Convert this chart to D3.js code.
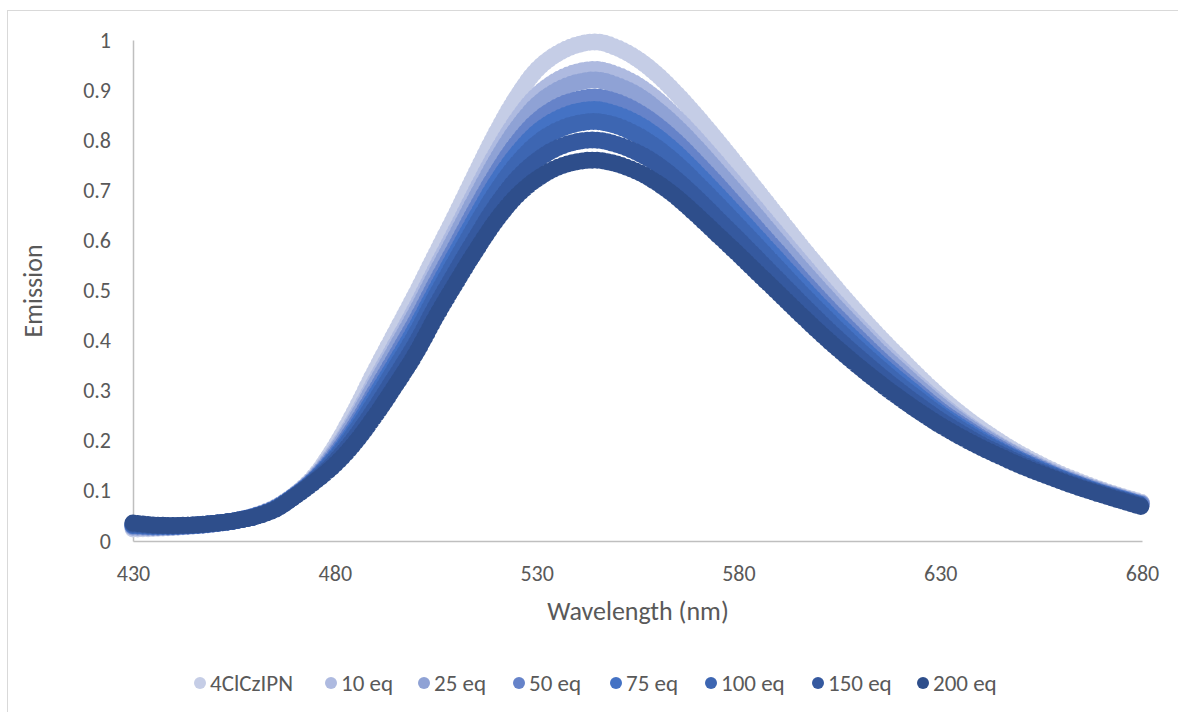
<!DOCTYPE html>
<html>
<head>
<meta charset="utf-8">
<script src="https://cdn.jsdelivr.net/npm/d3@7"></script>
<style>
  body { margin: 0; background: #fff; }
  text { font-family: Calibri, Carlito, Lato, sans-serif; fill: #595959; }
</style>
</head>
<body>
<div id="chart"></div>
<script>
// wavelengths (nm), every 5 nm
let wavelength = [430,435,440,445,450,455,460,465,470,475,480,485,490,495,500,505,510,515,520,525,530,535,540,545,550,555,560,565,570,575,580,585,590,595,600,605,610,615,620,625,630,635,640,645,650,655,660,665,670,675,680]

let seriesNames = ['4ClCzIPN','10 eq','25 eq','50 eq','75 eq','100 eq','150 eq','200 eq']
let seriesColors = ['#c5cde6','#aebae0','#8fa2d5','#6683c9','#4472c4','#3d66b2','#35599f','#2e4e8b']

let em4ClCzIPN = [.024,.025,.027,.030,.034,.040,.050,.066,.092,.130,.188,.260,.340,.416,.492,.572,.652,.735,.815,.885,.940,.972,.990,.996,.984,.962,.930,.890,.845,.797,.747,.696,.645,.594,.545,.497,.451,.407,.366,.326,.288,.254,.224,.197,.173,.152,.133,.117,.102,.089,.077]
let em10 = [.027,.027,.028,.030,.034,.040,.050,.065,.091,.127,.180,.245,.319,.391,.464,.543,.620,.699,.774,.839,.889,.919,.936,.941,.930,.910,.880,.842,.799,.753,.706,.658,.610,.562,.515,.470,.427,.386,.347,.310,.275,.243,.215,.190,.168,.148,.130,.114,.100,.087,.075]
let em25 = [.028,.027,.028,.031,.034,.040,.049,.065,.091,.126,.176,.239,.311,.382,.454,.532,.608,.685,.759,.822,.870,.899,.915,.920,.909,.890,.860,.824,.782,.737,.691,.644,.596,.549,.504,.460,.418,.377,.340,.304,.270,.239,.212,.188,.166,.146,.128,.113,.099,.086,.074]
let em50 = [.030,.028,.029,.031,.034,.040,.049,.064,.090,.124,.171,.230,.298,.367,.437,.514,.588,.663,.733,.793,.838,.866,.881,.886,.876,.857,.829,.794,.753,.710,.665,.620,.575,.529,.485,.443,.403,.364,.328,.294,.261,.233,.207,.184,.162,.144,.126,.111,.097,.085,.073]
let em75 = [.031,.029,.029,.031,.035,.040,.049,.064,.090,.123,.167,.223,.289,.355,.424,.500,.574,.646,.715,.772,.815,.842,.857,.861,.851,.833,.806,.772,.732,.690,.647,.603,.559,.515,.472,.431,.392,.354,.320,.287,.255,.228,.203,.180,.160,.142,.125,.110,.096,.084,.072]
let em100 = [.032,.030,.030,.031,.035,.040,.049,.063,.089,.122,.164,.217,.279,.345,.412,.488,.560,.631,.697,.752,.793,.819,.833,.837,.828,.810,.784,.751,.712,.671,.629,.586,.543,.500,.459,.419,.381,.345,.311,.280,.250,.223,.199,.178,.158,.140,.124,.109,.095,.083,.071]
let em150 = [.034,.031,.030,.032,.035,.040,.048,.063,.089,.120,.158,.207,.265,.328,.393,.468,.538,.606,.670,.722,.759,.784,.797,.800,.791,.775,.751,.719,.682,.642,.602,.561,.520,.479,.439,.401,.365,.331,.299,.269,.241,.216,.193,.173,.154,.137,.121,.107,.094,.082,.070]
let em200 = [.036,.032,.031,.032,.035,.040,.048,.062,.088,.118,.152,.196,.250,.310,.373,.447,.515,.580,.640,.688,.722,.745,.757,.760,.752,.737,.714,.684,.648,.610,.572,.533,.494,.455,.417,.381,.347,.315,.285,.257,.231,.208,.187,.168,.150,.134,.119,.105,.092,.080,.068]

let xTicks = [430,480,530,580,630,680]
let yTicks = [0,0.1,0.2,0.3,0.4,0.5,0.6,0.7,0.8,0.9,1]

let allSeries = [em4ClCzIPN, em10, em25, em50, em75, em100, em150, em200]

function render(){
  let width = 1178,
      height = 712,
      margin = { top:40, left:133, right:36, bottom:171 },
      innerWidth = width - margin.left - margin.right,
      innerHeight = height - margin.top - margin.bottom

  let svg = d3.select("#chart").append("svg")
              .attr("width", width)
              .attr("height", height)

  // chart area border
  svg.append("rect")
    .attr("x", 7.5).attr("y", 10.5)
    .attr("width", 1200).attr("height", 760)
    .attr("fill", "none").attr("stroke", "#d9d9d9")

  let xScale = d3.scaleLinear().domain([430,680]).range([0, innerWidth])
  let yScale = d3.scaleLinear().domain([0,1]).range([innerHeight, 0])

  let g = svg.append("g").attr("transform", `translate(${margin.left},${margin.top})`)

  let xAxis = d3.axisBottom(xScale).tickValues(xTicks).tickSize(0).tickSizeOuter(0).tickPadding(24)
  let yAxis = d3.axisLeft(yScale).tickValues(yTicks).tickSize(0).tickSizeOuter(0).tickPadding(22)
                .tickFormat(d => String(d))

  let yGroup = g.append("g").call(yAxis)
  let xGroup = g.append("g").attr("transform", `translate(0,${innerHeight})`).call(xAxis)
  ;[xGroup, yGroup].forEach(ax => {
    ax.select(".domain").attr("stroke", "#bfbfbf").attr("stroke-width", 1.5)
    ax.selectAll("text").attr("font-size", 22).attr("fill", "#595959")
      .style("font-family", "Calibri, Carlito, Lato, sans-serif")
  })

  let line = d3.line()
    .x((d, i) => xScale(wavelength[i]))
    .y(d => yScale(d))
    .curve(d3.curveCatmullRom)

  // markers only: round dots spaced along each series
  g.selectAll(".series")
    .data(allSeries)
    .enter()
    .append("path")
    .attr("class", "series")
    .attr("d", d => line(d))
    .attr("fill", "none")
    .attr("stroke", (d, i) => seriesColors[i])
    .attr("stroke-width", 17)
    .attr("stroke-linecap", "round")
    .attr("stroke-dasharray", "0,5")

  // axis titles
  svg.append("text")
    .attr("x", 638).attr("y", 620)
    .attr("text-anchor", "middle")
    .attr("font-size", 26)
    .text("Wavelength (nm)")
  svg.append("text")
    .attr("transform", "translate(42,291) rotate(-90)")
    .attr("text-anchor", "middle")
    .attr("font-size", 26)
    .text("Emission")

  // legend
  let legendX = [200, 331, 424, 519, 616, 711, 818, 923]
  let legend = svg.selectAll(".legend")
    .data(seriesNames)
    .enter()
    .append("g")
    .attr("class", "legend")
    .attr("transform", (d, i) => `translate(${legendX[i]},683)`)
  legend.append("circle")
    .attr("r", 6)
    .attr("fill", (d, i) => seriesColors[i])
  legend.append("text")
    .attr("x", 10)
    .attr("dy", "0.35em")
    .attr("font-size", 23)
    .text(d => d)
}

render()
</script>
</body>
</html>
